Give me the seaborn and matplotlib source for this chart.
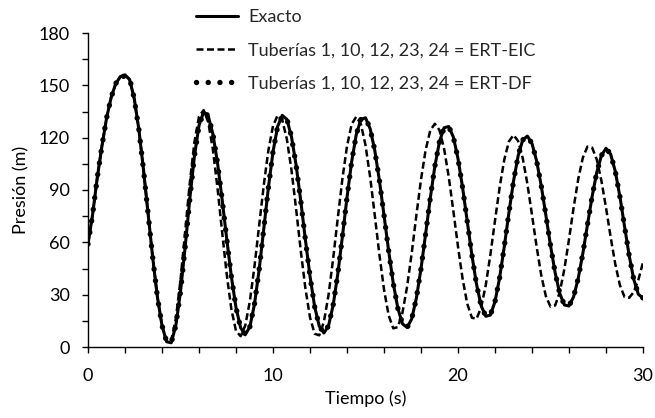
import numpy as np
import seaborn as sns
import matplotlib
matplotlib.use('Agg')
import matplotlib.pyplot as plt
from matplotlib.ticker import MultipleLocator

# tiempo (s), paso de 0.25 s
tiempo = np.linspace(0, 30, 121)

# presion (m), 4 valores por segundo
exacto = [
    59, 76, 97, 115,
    131, 143, 151, 155,
    156, 153.3, 142.4, 124.6,
    101.6, 76.2, 51, 28.8,
    12.3, 3, 2.4, 12.4,
    31.7, 57.2, 84.6, 109.2,
    127, 134.8, 132.4, 122.2,
    105.6, 84.6, 61.9, 40.3,
    22.6, 11, 7, 11.6,
    24.6, 44.2, 67.6, 91.3,
    111.9, 126.4, 132.8, 130.5,
    120.5, 104.2, 83.8, 61.6,
    40.6, 23.2, 12, 8,
    12.1, 23.9, 41.7, 63.2,
    85.7, 106.1, 121.7, 130.5,
    131.4, 125.2, 112.8, 95.6,
    75.6, 55.2, 36.6, 22.1,
    13.3, 11.2, 16.2, 28,
    44.9, 64.9, 85.3, 103.7,
    117.8, 125.7, 126.4, 120.3,
    108, 91.3, 72, 52.8,
    36, 23.7, 17.6, 18.3,
    26, 39.7, 57.4, 76.8,
    95, 109.6, 118.7, 120.9,
    116.6, 106.7, 92.4, 75.5,
    58.2, 42.6, 30.7, 24.1,
    23.5, 28.8, 39.4, 53.8,
    70.2, 86.3, 100.1, 109.7,
    113.9, 110.6, 100.8, 86.3,
    69.3, 52.6, 38.8, 30.2,
    28.1,
]

ert_eic = [
    59, 76, 97, 115,
    131, 143, 151, 155,
    156, 153.3, 142.4, 124.6,
    101.6, 76.2, 51, 28.8,
    12.3, 3, 3.7, 16.4,
    38.4, 65.9, 93.8, 117.3,
    132.1, 135.8, 128.9, 113.2,
    91.1, 65.9, 41.5, 21.6,
    9.2, 6.2, 12.3, 26.3,
    46.3, 69.5, 92.7, 112.7,
    126.7, 132.8, 130.2, 119.1,
    101.3, 79, 55.3, 33.7,
    17, 7.6, 6.7, 14.4,
    29.7, 50.5, 73.7, 96.3,
    115.1, 127.7, 132, 127.8,
    115.7, 97.5, 75.6, 53.1,
    33, 18.2, 10.7, 11.4,
    19.8, 34.7, 54, 75.5,
    96, 112.9, 124.1, 128,
    124.3, 113.6, 97.5, 77.9,
    57.5, 39, 24.8, 16.8,
    16.1, 22.6, 35.4, 52.9,
    72.5, 91.5, 107.3, 117.8,
    121.5, 118.1, 108.2, 93.5,
    75.7, 57.5, 41.1, 29.1,
    23.1, 23.8, 31.4, 44.7,
    61.7, 79.9, 96.3, 108.6,
    114.9, 114.3, 107.5, 95.4,
    79.9, 63.1, 47.6, 35.5,
    28.7, 28.2, 31.5, 38.5,
    48.5,
]

ert_df = [
    59, 76, 97, 115,
    131, 143, 151, 155.5,
    155, 154, 142.4, 124.6,
    101.6, 76.2, 51, 28.8,
    12.3, 3, 2.4, 12.4,
    31.7, 57.2, 84.6, 109.2,
    127, 134.5, 132.6, 122.2,
    105.6, 84.6, 61.9, 40.3,
    22.6, 11, 7, 11.6,
    24.6, 44.2, 67.6, 91.3,
    111.9, 126.4, 132.5, 130.8,
    120.5, 104.2, 83.8, 61.6,
    40.6, 23.2, 12, 8,
    12.1, 23.9, 41.7, 63.2,
    85.7, 106.1, 121.7, 130.5,
    131.4, 125.2, 112.8, 95.6,
    75.6, 55.2, 36.6, 22.1,
    13.3, 11.2, 16.2, 28,
    44.9, 64.9, 85.3, 103.7,
    117.8, 125.7, 126.4, 120.3,
    108, 91.3, 72, 52.8,
    36, 23.7, 17.6, 18.3,
    26, 39.7, 57.4, 76.8,
    95, 109.6, 118.7, 120.9,
    116.6, 106.7, 92.4, 75.5,
    58.2, 42.6, 30.7, 24.1,
    23.5, 28.8, 39.4, 53.8,
    70.2, 86.3, 100.1, 109.7,
    113.9, 110.6, 100.8, 86.3,
    69.3, 52.6, 38.8, 30.2,
    28.1,
]

etiquetas = ['Exacto',
             'Tuberías 1, 10, 12, 23, 24 = ERT-EIC',
             'Tuberías 1, 10, 12, 23, 24 = ERT-DF']


def main():
    sns.set_theme(style='ticks')
    plt.rcParams['font.family'] = ['Lato', 'DejaVu Sans']

    fig = plt.figure(figsize=(6.55, 4.18), dpi=100)
    ax = fig.add_axes([88 / 655, 1 - 347 / 418, (643 - 88) / 655, (347 - 33) / 418])

    sns.lineplot(x=tiempo, y=exacto, ax=ax, color='black', linewidth=2.2,
                 label=etiquetas[0])
    sns.lineplot(x=tiempo, y=ert_eic, ax=ax, color='black', linewidth=1.8,
                 linestyle=(0, (2.8, 1.4)), label=etiquetas[1])
    sns.lineplot(x=tiempo, y=ert_df, ax=ax, color='black', linewidth=3.9,
                 linestyle=(0, (0.01, 2.15)), dash_capstyle='round',
                 label=etiquetas[2])

    ax.set_xlim(0, 30)
    ax.set_ylim(0, 180)
    ax.xaxis.set_major_locator(MultipleLocator(10))
    ax.xaxis.set_minor_locator(MultipleLocator(2))
    ax.yaxis.set_major_locator(MultipleLocator(30))
    ax.yaxis.set_minor_locator(MultipleLocator(15))
    ax.tick_params(which='both', direction='out', length=4, width=1,
                   color='black', labelsize=13, labelcolor='black')
    ax.tick_params(axis='x', which='major', pad=11)
    ax.tick_params(axis='y', which='major', pad=9)
    for s in ['top', 'right']:
        ax.spines[s].set_visible(False)
    for s in ['left', 'bottom']:
        ax.spines[s].set_linewidth(1)
        ax.spines[s].set_color('black')

    ax.set_xlabel('Tiempo (s)', fontsize=13, color='black', labelpad=5)
    ax.set_ylabel('Presión (m)', fontsize=13, color='black', labelpad=7)

    ax.legend_.remove()
    h, l = ax.get_legend_handles_labels()
    fig.legend(h, l, loc='upper left', bbox_to_anchor=(196 / 655, 1 - 9 / 418),
               frameon=False, fontsize=13, handlelength=2.3, handletextpad=0.6,
               labelspacing=0.95, borderpad=0, borderaxespad=0)

    plt.savefig('out.png', dpi=100)


main()
